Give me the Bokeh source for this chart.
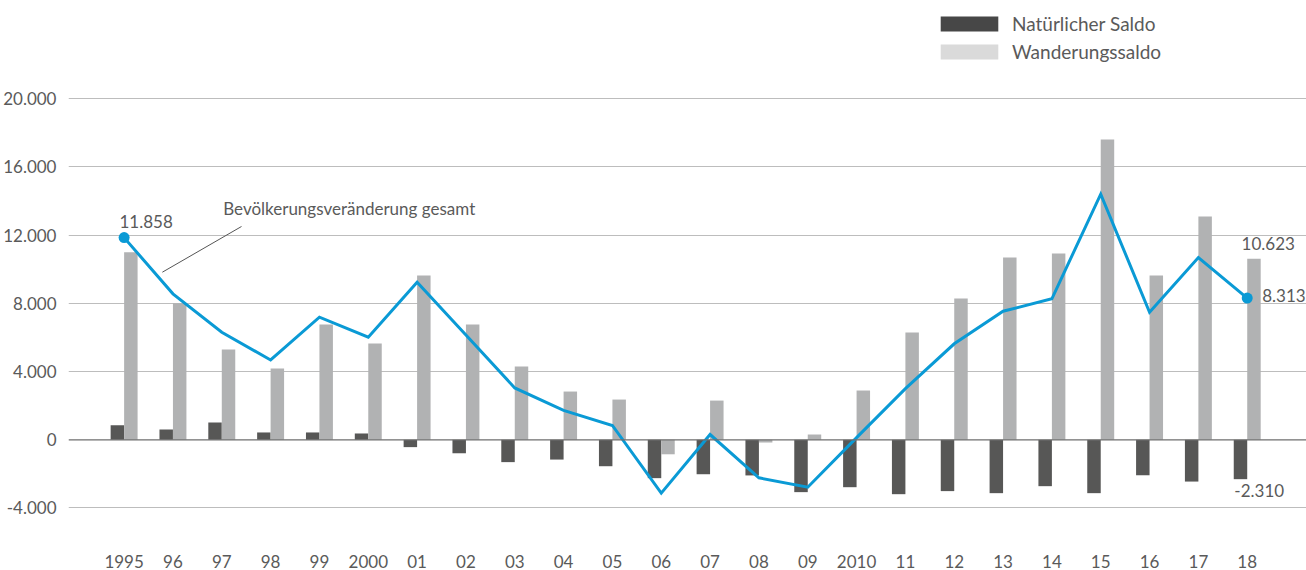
from bokeh.plotting import figure
from bokeh.models import (ColumnDataSource, Range1d, FixedTicker, Span, Legend, LegendItem)
from bokeh.transform import dodge
from bokeh.core.properties import value
from bokeh.embed import file_html
from bokeh.resources import INLINE

# ---- data ----
years = ["1995", "96", "97", "98", "99", "2000", "01", "02", "03", "04", "05", "06",
         "07", "08", "09", "2010", "11", "12", "13", "14", "15", "16", "17", "18"]
natural = [850, 610, 1010, 430, 430, 370, -430, -790, -1310, -1160, -1550, -2250,
           -2020, -2090, -3070, -2780, -3190, -3010, -3130, -2720, -3130, -2080, -2450, -2310]
migration = [11000, 8010, 5300, 4180, 6760, 5650, 9640, 6760, 4300, 2830, 2360, -850,
             2300, -160, 310, 2890, 6290, 8290, 10690, 10930, 17610, 9640, 13100, 10623]
total = [11858, 8560, 6310, 4680, 7190, 6020, 9240, 6150, 3040, 1720, 840, -3130,
         310, -2230, -2780, 130, 3000, 5630, 7540, 8270, 14410, 7480, 10690, 8313]
y_ticks = [-4000, 0, 4000, 8000, 12000, 16000, 20000]
y_tick_labels = ["-4.000", "0", "4.000", "8.000", "12.000", "16.000", "20.000"]
legend_labels = ["Natürlicher Saldo", "Wanderungssaldo"]
line_label = "Bevölkerungsveränderung gesamt"

FONT = "Lato"
TXT = "#5a5a5a"
DARK = "#575756"
LIGHT = "#b1b2b3"
BLUE = "#0a9ad5"

idx = list(range(len(years)))
src = ColumnDataSource(dict(x=idx, nat=natural, mig=migration, tot=total))

p = figure(width=1306, height=570, output_backend="svg", toolbar_location=None,
           x_range=Range1d(-1.139, 24.214), y_range=Range1d(-5320, 25765),
           min_border_left=66, min_border_right=0, min_border_top=0, min_border_bottom=40)
p.outline_line_color = None
p.background_fill_color = "white"
p.border_fill_color = "white"

bw = 0.276
r_nat = p.vbar(x=dodge("x", -bw / 2), top="nat", bottom=0, width=bw, source=src,
               fill_color=DARK, line_color=None)
r_mig = p.vbar(x=dodge("x", bw / 2), top="mig", bottom=0, width=bw, source=src,
               fill_color=LIGHT, line_color=None)

zero = Span(location=0, dimension="width", line_color="#6e6e6e", line_width=1.3)
p.add_layout(zero)

p.line(x="x", y="tot", source=src, line_color=BLUE, line_width=3, line_join="miter")
ends = ColumnDataSource(dict(x=[idx[0], idx[-1]], y=[total[0], total[-1]]))
p.scatter(x="x", y="y", source=ends, size=11, fill_color=BLUE, line_color=None)

# value labels
def lab(x, y, t, dx, dy, align):
    p.text(x=[x], y=[y], text=[t], x_offset=dx, y_offset=dy, text_align=align,
           text_baseline="middle", text_font=value(FONT), text_font_size="17px",
           text_color=TXT)

fmt = lambda v: ("-" if v < 0 else "") + f"{abs(v):,}".replace(",", ".")
lab(idx[0], total[0], fmt(total[0]), 22, -16, "center")
lab(idx[-1], migration[-1], fmt(migration[-1]), 21, -15, "center")
lab(idx[-1], total[-1], fmt(total[-1]), 15, -3, "left")
lab(idx[-1], natural[-1], fmt(natural[-1]), 12, 11, "center")

# callout
p.segment(x0=[2.404], y0=[12510], x1=[0.783], y1=[9830], line_color="#555555", line_width=1)
p.text(x=[2.03], y=[13572], text=[line_label], text_align="left", text_baseline="middle",
       text_font=value(FONT), text_font_size="17px", text_color=TXT)

# legend with its own swatch colours (dummy renderers outside the visible range)
d1 = p.vbar(x=[-100], top=[1], width=0.1, fill_color="#474747", line_color=None)
d2 = p.vbar(x=[-100], top=[1], width=0.1, fill_color="#dadada", line_color=None)
leg = Legend(items=[LegendItem(label=legend_labels[0], renderers=[d1]),
                    LegendItem(label=legend_labels[1], renderers=[d2])],
             location=(865, 467), orientation="vertical",
             glyph_width=72, glyph_height=19, label_standoff=7, spacing=5,
             padding=0, margin=0, border_line_color=None, background_fill_alpha=0,
             label_text_font=FONT, label_text_font_size="19px", label_text_color=TXT)
p.add_layout(leg)

# axes
p.xaxis.ticker = FixedTicker(ticks=idx)
p.xaxis.major_label_overrides = {i: y for i, y in zip(idx, years)}
p.yaxis.ticker = FixedTicker(ticks=y_ticks)
p.yaxis.major_label_overrides = {t: l for t, l in zip(y_ticks, y_tick_labels)}
for ax in (p.xaxis, p.yaxis):
    ax.axis_line_color = None
    ax.major_tick_line_color = None
    ax.minor_tick_line_color = None
    ax.major_label_text_font = FONT
    ax.major_label_text_font_size = "17px"
    ax.major_label_text_color = TXT
p.xaxis.major_label_standoff = 18
p.yaxis.major_label_standoff = 6

p.xgrid.grid_line_color = None
p.ygrid.ticker = FixedTicker(ticks=[t for t in y_ticks if t != 0])
p.ygrid.grid_line_color = "#bdbdbd"
p.ygrid.grid_line_width = 1.2

open("out.html", "w").write(file_html(p, INLINE))
